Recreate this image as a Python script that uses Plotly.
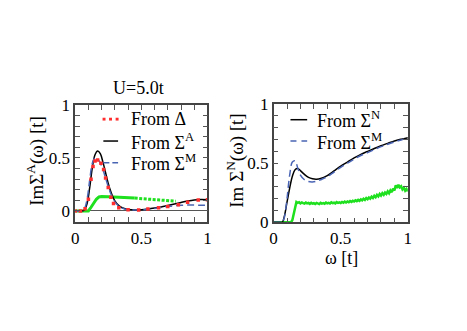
import plotly.graph_objects as go
import numpy as np

# page is 467x331, the browser adds an 8px body margin around the plot div
W, H = 467, 331
PAD = 8
FONT = 'Liberation Serif'

# left panel (Im Sigma^A)
w_a = [0, 0.05, 0.07, 0.09, 0.11, 0.13, 0.15, 0.17, 0.19, 0.21, 0.23, 0.25, 0.27, 0.30, 0.33,
       0.36, 0.40, 0.45, 0.50, 0.55, 0.60, 0.65, 0.70, 0.75, 0.80, 0.85, 0.90, 0.95, 1.0]
sigA_fromA = [0, 0.0, 0.01, 0.07, 0.22, 0.41, 0.53, 0.565, 0.54, 0.46, 0.36, 0.26, 0.18, 0.095, 0.05,
              0.028, 0.015, 0.01, 0.012, 0.018, 0.027, 0.038, 0.052, 0.066, 0.08, 0.093, 0.103, 0.107, 0.105]
sigA_fromM = [0, 0.0, 0.02, 0.11, 0.29, 0.45, 0.50, 0.49, 0.45, 0.39, 0.31, 0.23, 0.16, 0.085, 0.045,
              0.024, 0.012, 0.008, 0.01, 0.016, 0.024, 0.033, 0.042, 0.05, 0.054, 0.055, 0.055, 0.054, 0.053]

w_delta = [0.0, 0.04, 0.075, 0.10, 0.12, 0.135, 0.15, 0.17, 0.195, 0.215, 0.23, 0.25, 0.27, 0.29,
           0.33, 0.40, 0.48, 0.55, 0.63, 0.70, 0.78, 0.85, 0.93, 1.0]
sigA_fromDelta = [0.0, 0.0, 0.02, 0.11, 0.30, 0.42, 0.47, 0.48, 0.45, 0.39, 0.31, 0.22, 0.13, 0.07,
                  0.03, 0.012, 0.01, 0.018, 0.03, 0.042, 0.058, 0.083, 0.104, 0.106]

w_green_a = [0, 0.10, 0.12, 0.14, 0.16, 0.18, 0.20, 0.25, 0.30, 0.35, 0.40, 0.45,
             0.50, 0.55, 0.60, 0.65, 0.70, 0.76]
green_a = [0, 0.0, 0.035, 0.075, 0.11, 0.132, 0.137, 0.135, 0.132, 0.128, 0.125, 0.121,
           0.117, 0.113, 0.108, 0.103, 0.098, 0.092]
split_a = 11  # solid part ends at w=0.45, dotted after

# right panel (Im Sigma^N)
w_n = [0, 0.05, 0.065, 0.08, 0.10, 0.12, 0.14, 0.16, 0.18, 0.20, 0.23, 0.26, 0.29, 0.32, 0.35,
       0.40, 0.45, 0.50, 0.55, 0.60, 0.65, 0.70, 0.75, 0.80, 0.85, 0.90, 0.95, 1.0]
sigN_fromN = [0, 0, 0.0, 0.05, 0.17, 0.29, 0.39, 0.445, 0.455, 0.437, 0.405, 0.38, 0.368, 0.365, 0.37,
              0.395, 0.435, 0.475, 0.51, 0.545, 0.575, 0.60, 0.625, 0.648, 0.668, 0.688, 0.703, 0.716]
sigN_fromM = [0, 0, 0.0, 0.04, 0.20, 0.40, 0.51, 0.52, 0.46, 0.40, 0.36, 0.345, 0.342, 0.348, 0.36,
              0.385, 0.425, 0.465, 0.50, 0.535, 0.565, 0.59, 0.615, 0.64, 0.66, 0.68, 0.697, 0.712]

w_green_n = [0, 0.13] + list(np.round(np.arange(0.14, 1.0001, 0.01), 2))
green_n = [0, 0,
           0.02, 0.08, 0.14, 0.172, 0.165, 0.170, 0.160, 0.168, 0.162, 0.158,
           0.167, 0.160, 0.164, 0.156, 0.165, 0.158, 0.162, 0.155, 0.164, 0.158,
           0.154, 0.165, 0.158, 0.162, 0.157, 0.167, 0.160, 0.165, 0.159, 0.169,
           0.162, 0.167, 0.160, 0.171, 0.164, 0.169, 0.163, 0.172, 0.165, 0.175,
           0.168, 0.176, 0.170, 0.180, 0.173, 0.183, 0.176, 0.186, 0.179, 0.190,
           0.182, 0.194, 0.186, 0.199, 0.190, 0.205, 0.195, 0.210, 0.200, 0.217,
           0.206, 0.224, 0.212, 0.232, 0.220, 0.240, 0.226, 0.246, 0.232, 0.252,
           0.240, 0.262, 0.246, 0.270, 0.255, 0.285, 0.270, 0.312, 0.290, 0.318,
           0.296, 0.305, 0.278, 0.292, 0.268, 0.282, 0.262]

tick_vals = [round(0.1 * i, 1) for i in range(11)]
tick_text = ['0', '', '', '', '', '0.5', '', '', '', '', '1']

RED = '#ff2d2d'
BLUE = '#4a64b4'
GREEN = '#1ee01e'

FW, FH = W - 2 * PAD, H - 2 * PAD


def px(x):
    return (x - PAD) / FW


def py(y):
    return 1 - (y - PAD) / FH


fig = go.Figure()

# left
fig.add_trace(go.Scatter(x=w_green_a[:split_a + 1], y=green_a[:split_a + 1], mode='lines',
                         line=dict(color=GREEN, width=3), xaxis='x', yaxis='y'))
fig.add_trace(go.Scatter(x=w_green_a[split_a:], y=green_a[split_a:], mode='lines',
                         line=dict(color=GREEN, width=3, dash='3px,1.5px'), xaxis='x', yaxis='y'))
fig.add_trace(go.Scatter(x=w_a, y=sigA_fromA, mode='lines', line=dict(color='black', width=1.5, shape='spline'),
                         xaxis='x', yaxis='y'))
fig.add_trace(go.Scatter(x=w_a, y=sigA_fromM, mode='lines',
                         line=dict(color=BLUE, width=1.5, dash='7px,4px', shape='spline'), xaxis='x', yaxis='y'))
fig.add_trace(go.Scatter(x=w_delta, y=sigA_fromDelta, mode='markers',
                         marker=dict(color=RED, size=3.5, symbol='square'), xaxis='x', yaxis='y'))

# right
fig.add_trace(go.Scatter(x=w_green_n, y=green_n, mode='lines', line=dict(color=GREEN, width=2.5),
                         xaxis='x2', yaxis='y2'))
fig.add_trace(go.Scatter(x=w_n, y=sigN_fromN, mode='lines', line=dict(color='black', width=1.5, shape='spline'),
                         xaxis='x2', yaxis='y2'))
fig.add_trace(go.Scatter(x=w_n, y=sigN_fromM, mode='lines',
                         line=dict(color=BLUE, width=1.5, dash='7px,4px', shape='spline'), xaxis='x2', yaxis='y2'))

axis_style = dict(tickmode='array', tickvals=tick_vals, ticktext=tick_text, ticks='inside', ticklen=5,
                  tickcolor='#555', tickwidth=1, showline=True, linecolor='#444', linewidth=1.5,
                  mirror='ticks', showgrid=False, tickfont=dict(family=FONT, size=17, color='black'))

fig.update_layout(
    width=FW, height=FH, margin=dict(l=0, r=0, t=0, b=0),
    paper_bgcolor='white', plot_bgcolor='white', showlegend=False,
    font=dict(family=FONT, color='black'),
    xaxis=dict(domain=[px(72.3), px(207)], range=[0, 1], zeroline=False, **axis_style),
    yaxis=dict(domain=[py(225.7), py(101.5)], range=[-0.1, 1], zeroline=True, zerolinecolor='#555',
               zerolinewidth=1, **axis_style),
    xaxis2=dict(domain=[px(274.3), px(411)], range=[0, 1], zeroline=False, anchor='y2', **axis_style),
    yaxis2=dict(domain=[py(226.5), py(100.7)], range=[0, 1], zeroline=False, anchor='x2', **axis_style),
)

annots = [
    dict(text='U=5.0t', x=px(137), y=py(84), size=18, angle=0),
    dict(text='ImΣ<sup>A</sup>(ω) [t]', x=px(32), y=py(161.5), size=19, angle=-90),
    dict(text='Im Σ<sup>N</sup>(ω) [t]', x=px(236), y=py(161), size=19, angle=-90),
    dict(text='ω [t]', x=px(343), y=py(264), size=18, angle=0),
]
for a in annots:
    fig.add_annotation(text=a['text'], x=a['x'], y=a['y'], xref='paper', yref='paper', showarrow=False,
                       textangle=a['angle'], xanchor='center', yanchor='middle',
                       font=dict(family=FONT, size=a['size'], color='black'))

# legends
leg_left = [('From Δ', 116.7), ('From Σ<sup>A</sup>', 140), ('From Σ<sup>M</sup>', 163)]
leg_right = [('From Σ<sup>N</sup>', 117.3), ('From Σ<sup>M</sup>', 140)]
for txt, yy in leg_left:
    fig.add_annotation(text=txt, x=px(127), y=py(yy), xref='paper', yref='paper', showarrow=False,
                       xanchor='left', yanchor='middle', font=dict(family=FONT, size=18, color='black'))
for txt, yy in leg_right:
    fig.add_annotation(text=txt, x=px(316.5), y=py(yy), xref='paper', yref='paper', showarrow=False,
                       xanchor='left', yanchor='middle', font=dict(family=FONT, size=18, color='black'))

for xx in [101.7, 108.3, 115]:
    fig.add_shape(type='rect', xref='paper', yref='paper', x0=px(xx - 1.5), x1=px(xx + 1.5),
                  y0=py(116.7 + 1.5), y1=py(116.7 - 1.5), fillcolor=RED, line=dict(width=0))
fig.add_shape(type='line', xref='paper', yref='paper', x0=px(101), x1=px(116), y0=py(140), y1=py(140),
              line=dict(color='black', width=1.5))
fig.add_shape(type='line', xref='paper', yref='paper', x0=px(101), x1=px(116), y0=py(163), y1=py(163),
              line=dict(color=BLUE, width=1.5, dash='6px,3px'))
fig.add_shape(type='line', xref='paper', yref='paper', x0=px(291.5), x1=px(308.5), y0=py(117.3), y1=py(117.3),
              line=dict(color='black', width=1.5))
fig.add_shape(type='line', xref='paper', yref='paper', x0=px(291.5), x1=px(308.5), y0=py(140), y1=py(140),
              line=dict(color=BLUE, width=1.5, dash='6px,5px'))

fig.write_html('out.html')
